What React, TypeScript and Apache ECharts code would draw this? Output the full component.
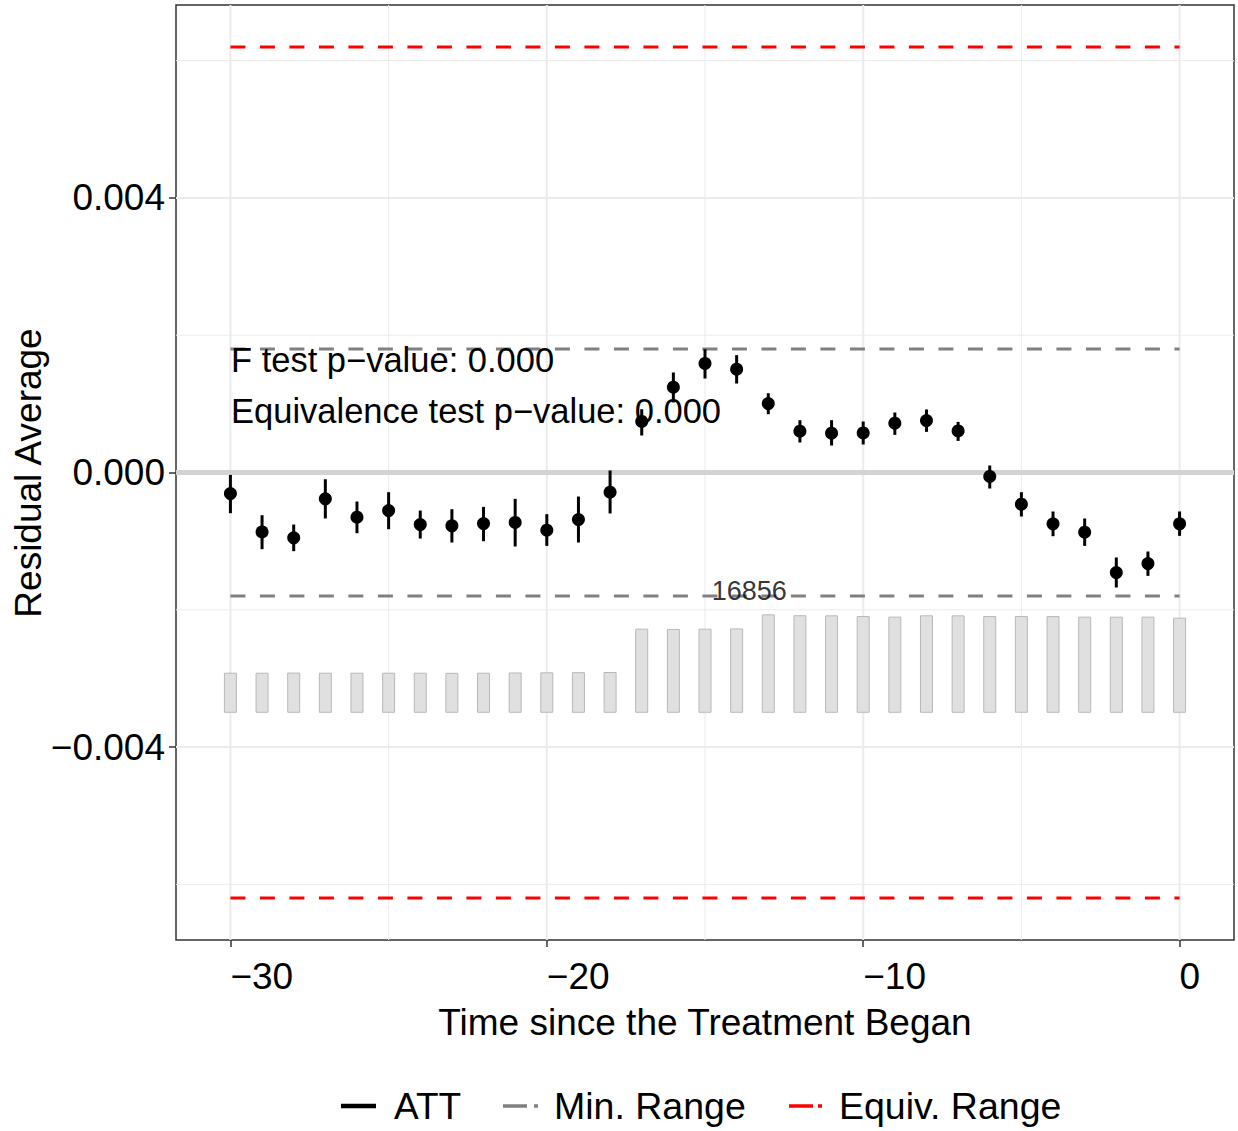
import React, { useEffect, useRef } from "react";
import * as echarts from "echarts";

// ---------------- data ----------------
const periods = [-30, -29, -28, -27, -26, -25, -24, -23, -22, -21, -20, -19, -18, -17, -16, -15, -14, -13, -12, -11, -10, -9, -8, -7, -6, -5, -4, -3, -2, -1, 0];

const att = [
  -0.000306, -0.000865, -0.000952, -0.000384, -0.000651, -0.000554, -0.000758, -0.000777,
  -0.000743, -0.000728, -0.00084, -0.000685, -0.000287, 0.000743, 0.001243, 0.001588,
  0.001505, 0.001005, 0.000602, 0.000572, 0.000577, 0.000718, 0.000757, 0.000606,
  -0.000058, -0.000462, -0.000748, -0.00087, -0.001457, -0.001326, -0.000748,
];

const ciLower = [
  -0.000593, -0.001117, -0.001146, -0.00067, -0.000884, -0.000826, -0.000962, -0.00102,
  -0.001001, -0.001078, -0.001069, -0.00102, -0.000597, 0.000539, 0.00102, 0.001369,
  0.001296, 0.000849, 0.000437, 0.000393, 0.000408, 0.000548, 0.000592, 0.00046,
  -0.000233, -0.000641, -0.000928, -0.001069, -0.001675, -0.001506, -0.000923,
];

const ciUpper = [
  -0.000035, -0.000622, -0.000758, -0.000098, -0.000423, -0.000287, -0.000554, -0.000535,
  -0.000501, -0.000384, -0.000607, -0.00035, 0.000029, 0.000922, 0.001457, 0.001796,
  0.001709, 0.001155, 0.000762, 0.000762, 0.000743, 0.000874, 0.000918, 0.000737,
  0.000102, -0.000287, -0.000568, -0.00067, -0.001238, -0.001151, -0.000568,
];

const counts = [
  6860, 6860, 6880, 6860, 6860, 6860, 6860, 6840, 6860, 6900, 6920, 6950, 6980,
  14400, 14350, 14400, 14450, 16856, 16700, 16680, 16560, 16460, 16690, 16680,
  16560, 16560, 16550, 16460, 16450, 16460, 16290,
];

const minRange = 0.0018;
const equivRange = 0.0062;

const xTicks = [-30, -20, -10, 0];
const xMinorGrid = [-25, -15, -5];
const yTicks = [-0.004, 0, 0.004];
const yMinorGrid = [-0.006, -0.002, 0.002, 0.006];

const fTestText = "F test p\u2212value: 0.000";
const eqTestText = "Equivalence test p\u2212value: 0.000";
const legendNames = ["ATT", "Min. Range", "Equiv. Range"];
const xTitle = "Time since the Treatment Began";
const yTitle = "Residual Average";

// ---------------- layout ----------------
const FONT = '"Liberation Sans", Arial, Helvetica, sans-serif';
const Y_MIN = -0.00681;
const Y_MAX = 0.00681;
const X_MIN = -31.72;
const X_MAX = 1.72;
const BAR_BASE = -0.0035;
const BAR_TOP = -0.002066;
const COUNT_LABEL_X = -13.6;
const COUNT_LABEL_Y = -0.00173;

const maxCount = Math.max(...counts);
const countScale = maxCount / (BAR_TOP - BAR_BASE);
const countMin = (Y_MIN - BAR_BASE) * countScale;
const countMax = (Y_MAX - BAR_BASE) * countScale;

const minus = (s: string) => s.replace("-", "\u2212");

// [value, orientation (0 = horizontal, 1 = vertical), width, color]
const gridRows: any[] = [
  ...yMinorGrid.map((v) => [v, 0, 1, "#ebebeb"]),
  ...xMinorGrid.map((v) => [v, 1, 1, "#ebebeb"]),
  ...yTicks.map((v) => [v, 0, 2, "#ebebeb"]),
  ...xTicks.map((v) => [v, 1, 2, "#ebebeb"]),
];

export default function App() {
  const ref = useRef<HTMLDivElement>(null);

  useEffect(() => {
    if (!ref.current) return;
    const chart = echarts.init(ref.current, null, { renderer: "svg" });

    const dashed = (y: number, color: string) => ({
      type: "line",
      data: [
        [periods[0], y],
        [periods[periods.length - 1], y],
      ],
      symbol: "none",
      silent: true,
      z: 4,
      lineStyle: { color, width: 3, type: [15, 14.5] },
    });

    const gridRender = (params: any, api: any) => {
      const v = api.value(0);
      const o = api.value(1);
      const cs = params.coordSys;
      let shape;
      if (o === 0) {
        const p = api.coord([X_MIN, v]);
        shape = { x1: cs.x, y1: p[1], x2: cs.x + cs.width, y2: p[1] };
      } else {
        const p = api.coord([v, 0]);
        shape = { x1: p[0], y1: cs.y, x2: p[0], y2: cs.y + cs.height };
      }
      return {
        type: "line",
        shape,
        style: { stroke: gridRows[params.dataIndex][3], lineWidth: gridRows[params.dataIndex][2] },
      };
    };

    const option: any = {
      animation: false,
      backgroundColor: "#ffffff",
      grid: {
        left: 176,
        right: 4,
        top: 5,
        bottom: 191,
        show: true,
        borderColor: "#333333",
        borderWidth: 1.5,
        backgroundColor: "#ffffff",
      },
      xAxis: {
        type: "value",
        min: X_MIN,
        max: X_MAX,
        axisLine: { show: false, onZero: false },
        splitLine: { show: false },
        axisTick: {
          show: true,
          customValues: xTicks,
          length: 7,
          lineStyle: { color: "#333333", width: 1.5 },
        },
        axisLabel: {
          customValues: xTicks,
          formatter: (v: number) => minus(String(v)),
          fontSize: 37,
          fontFamily: FONT,
          color: "#000000",
          align: "left",
          margin: 18,
        },
      },
      yAxis: [
        {
          type: "value",
          min: Y_MIN,
          max: Y_MAX,
          axisLine: { show: false, onZero: false },
          splitLine: { show: false },
          axisTick: {
            show: true,
            customValues: yTicks,
            length: 7,
            lineStyle: { color: "#333333", width: 1.5 },
          },
          axisLabel: {
            customValues: yTicks,
            formatter: (v: number) => minus(v.toFixed(3)).replace("\u22120.000", "0.000"),
            fontSize: 37,
            fontFamily: FONT,
            color: "#000000",
            margin: 11,
          },
        },
        {
          type: "value",
          min: countMin,
          max: countMax,
          show: false,
          axisLine: { onZero: false },
          splitLine: { show: false },
        },
      ],
      series: [
        {
          type: "custom",
          z: 1,
          silent: true,
          data: gridRows.map((r) => [r[0], r[1]]),
          encode: { x: -1, y: -1 },
          renderItem: gridRender,
          clip: false,
        },
        {
          type: "bar",
          yAxisIndex: 1,
          data: periods.map((p, i) => [p, counts[i]]),
          barWidth: 13,
          silent: true,
          z: 2,
          itemStyle: { color: "#e0e0e0", borderColor: "#b8b8b8", borderWidth: 1 },
        },
        {
          type: "line",
          data: [
            [X_MIN, 0],
            [X_MAX, 0],
          ],
          symbol: "none",
          silent: true,
          z: 3,
          lineStyle: { color: "#d3d3d3", width: 5 },
        },
        dashed(minRange, "#808080"),
        dashed(-minRange, "#808080"),
        dashed(equivRange, "#ff0000"),
        dashed(-equivRange, "#ff0000"),
        {
          type: "custom",
          z: 5,
          silent: true,
          data: periods.map((p, i) => [p, ciLower[i], ciUpper[i]]),
          encode: { x: 0, y: [1, 2] },
          renderItem: (params: any, api: any) => {
            const x = api.value(0);
            const lo = api.coord([x, api.value(1)]);
            const hi = api.coord([x, api.value(2)]);
            return {
              type: "line",
              shape: { x1: lo[0], y1: lo[1], x2: hi[0], y2: hi[1] },
              style: { stroke: "#000000", lineWidth: 3 },
            };
          },
        },
        {
          type: "scatter",
          z: 6,
          silent: true,
          data: periods.map((p, i) => [p, att[i]]),
          symbol: "circle",
          symbolSize: 13,
          itemStyle: { color: "#000000", opacity: 1 },
        },
        {
          type: "scatter",
          z: 7,
          silent: true,
          data: [[COUNT_LABEL_X, COUNT_LABEL_Y]],
          symbolSize: 0,
          label: {
            show: true,
            position: "inside",
            formatter: () => String(maxCount),
            fontSize: 27,
            fontFamily: FONT,
            color: "#000000",
          },
        },
      ],
      graphic: [
        {
          type: "text",
          x: 231,
          y: 360,
          z: 10,
          style: { text: fTestText, font: `34.5px ${FONT}`, fill: "#000", align: "left", verticalAlign: "middle" },
        },
        {
          type: "text",
          x: 231,
          y: 411,
          z: 10,
          style: { text: eqTestText, font: `34.5px ${FONT}`, fill: "#000", align: "left", verticalAlign: "middle" },
        },
        {
          type: "text",
          x: 705,
          y: 1022,
          style: { text: xTitle, font: `37px ${FONT}`, fill: "#000", align: "center", verticalAlign: "middle" },
        },
        {
          type: "text",
          x: 28,
          y: 473,
          rotation: Math.PI / 2,
          style: { text: yTitle, font: `37px ${FONT}`, fill: "#000", align: "center", verticalAlign: "middle" },
        },
        // legend
        {
          type: "line",
          shape: { x1: 341, y1: 1106, x2: 376, y2: 1106 },
          style: { stroke: "#000", lineWidth: 4.5 },
        },
        {
          type: "text",
          x: 394,
          y: 1106,
          style: { text: legendNames[0], font: `37px ${FONT}`, fill: "#000", align: "left", verticalAlign: "middle" },
        },
        {
          type: "line",
          shape: { x1: 503, y1: 1106, x2: 538, y2: 1106 },
          style: { stroke: "#808080", lineWidth: 3.5, lineDash: [24, 7] },
        },
        {
          type: "text",
          x: 554,
          y: 1106,
          style: { text: legendNames[1], font: `37.5px ${FONT}`, fill: "#000", align: "left", verticalAlign: "middle" },
        },
        {
          type: "line",
          shape: { x1: 789, y1: 1106, x2: 822, y2: 1106 },
          style: { stroke: "#ff0000", lineWidth: 3.5, lineDash: [24, 5] },
        },
        {
          type: "text",
          x: 839,
          y: 1106,
          style: { text: legendNames[2], font: `37.5px ${FONT}`, fill: "#000", align: "left", verticalAlign: "middle" },
        },
      ],
    };

    chart.setOption(option);
    return () => chart.dispose();
  }, []);

  return (
    <div
      ref={ref}
      style={{ position: "absolute", left: 0, top: 0, width: 1238, height: 1131, background: "#fff" }}
    />
  );
}
